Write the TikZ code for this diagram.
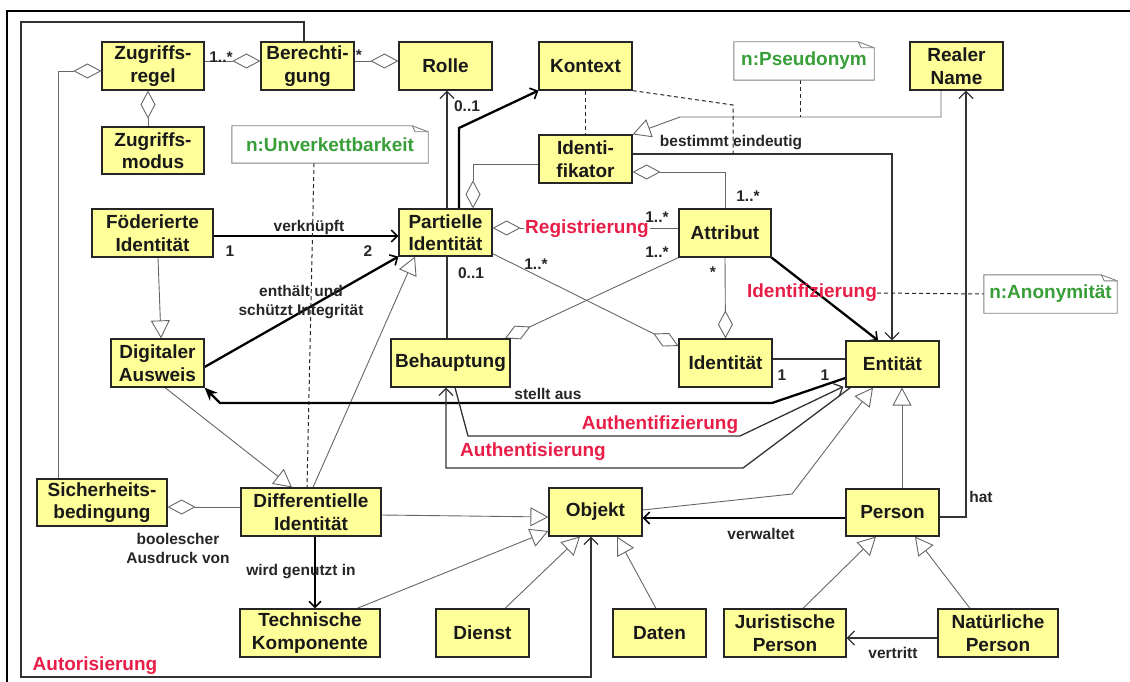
\documentclass[tikz,border=0pt]{standalone}
\usepackage{fontspec}
\setmainfont{Liberation Sans}
\usetikzlibrary{arrows.meta,backgrounds}
\definecolor{boxy}{RGB}{255,255,153}
\definecolor{redl}{RGB}{232,30,72}
\definecolor{notegreen}{RGB}{56,158,56}
\begin{document}
\begin{tikzpicture}[x=1pt,y=-1pt,
  box/.style={draw=black!85, line width=1.2pt, fill=boxy, text=black!90, font=\fontsize{19}{22.5}\selectfont\bfseries, align=center, inner sep=0pt},
  sz/.style 2 args={minimum width=#1pt, minimum height=#2pt},
  notebox/.style={font=\fontsize{19}{21}\selectfont\bfseries, text=notegreen, inner sep=0pt},
  notebd/.style={draw=black!50, line width=0.9pt},
  lab/.style={font=\fontsize{15.5}{19}\selectfont\bfseries, align=center, inner sep=0pt, text=black!85},
  redlab/.style={font=\fontsize{19}{21}\selectfont\bfseries, text=redl, inner sep=0pt},
  thinln/.style={draw=black!60, line width=0.9pt},
  medln/.style={draw=black!80, line width=1.3pt},
  heavy/.style={draw=black, line width=2.3pt},
  dotln/.style={draw=black!85, line width=1pt, dash pattern=on 4pt off 3pt},
  agg/.style={thinln, -{Diamond[fill=white, length=28pt, width=15pt, line width=0.9pt]}},
  gen/.style={thinln, -{Triangle[fill=white, length=18pt, width=19pt, line width=0.9pt]}},
  nav/.style={-{Straight Barb[length=7pt, width=14pt]}},
  navh/.style={-{Straight Barb[length=6pt, width=12pt, line width=1.6pt]}}
]
\useasboundingbox (0,0) rectangle (1130,682);
\draw[line width=2.5pt] (1140,11) -- (7,11) -- (7,692);

% boxes
\node[box, sz={102}{48}] (zr) at (153,66) {Zugriffs-\\regel};
\node[box, sz={93}{48}] (be) at (307.5,66) {Berechti-\\gung};
\node[box, sz={93}{48}] (ro) at (445.5,66) {Rolle};
\node[box, sz={93}{48}] (ko) at (585.5,66) {Kontext};
\node[box, sz={93}{48}] (rn) at (956.5,66) {Realer\\Name};
\node[box, sz={102}{47}] (zm) at (153,150.5) {Zugriffs-\\modus};
\node[box, sz={93}{48}] (idf) at (585.5,159) {Identi-\\fikator};
\node[box, sz={121}{48}] (fi) at (152.5,233) {Föderierte\\Identität};
\node[box, sz={93}{47}] (pi) at (445.5,232.5) {Partielle\\Identität};
\node[box, sz={92}{48}] (at) at (725,233) {Attribut};
\node[box, sz={93}{48}] (da) at (157.5,363) {Digitaler\\Ausweis};
\node[box, sz={119}{48}] (bh) at (450.5,363) {Behauptung};
\node[box, sz={93}{48}] (it) at (725.5,363) {Identität};
\node[box, sz={93}{46}] (en) at (892.5,364) {Entität};
\node[box, sz={130}{47}] (sb) at (102,502.5) {Sicherheits-\\bedingung};
\node[box, sz={140}{48}] (di) at (311,512) {Differentielle\\Identität};
\node[box, sz={93}{48}] (ob) at (595.5,512) {Objekt};
\node[box, sz={93}{47}] (pe) at (892.5,512.5) {Person};
\node[box, sz={140}{48}] (tk) at (310,633) {Technische\\Komponente};
\node[box, sz={93}{48}] (dn) at (482.5,633) {Dienst};
\node[box, sz={93}{48}] (dt) at (659.5,633) {Daten};
\node[box, sz={122}{48}] (jp) at (785,633) {Juristische\\Person};
\node[box, sz={120}{48}] (np) at (998,633) {Natürliche\\Person};

% notes
\node[notebox, sz={196}{37}] (nu) at (330,144.5) {n:Unverkettbarkeit};
\node[notebox, sz={140}{38}] (nps) at (804,61) {n:Pseudonym};
\node[notebox, sz={133}{38}] (na) at (1050.5,294) {n:Anonymität};
\foreach \n in {nu,nps,na}{
  \draw[notebd] (\n.south west) -- (\n.north west) -- ([xshift=-16pt]\n.north east)
     -- ([yshift=-6pt]\n.north east) -- (\n.south east) -- cycle;
  \draw[notebd] ([xshift=-16pt]\n.north east) -- ([xshift=-13pt,yshift=-6pt]\n.north east) -- ([yshift=-6pt]\n.north east);
}

% labels
\node[redlab] (lid) at (812,293) {Identifizierung};
\node[redlab, fill=white, inner sep=1pt] (lreg) at (587,229) {Registrierung};
\node[redlab] (lauf) at (660,425) {Authentifizierung};
\node[redlab] (laus) at (533,452) {Authentisierung};
\node[redlab] (laut) at (95,666) {Autorisierung};
\node[lab] (l1) at (309,227) {verknüpft};
\node[lab] (l2) at (301,302) {enthält und\\schützt Integrität};
\node[lab] (l3) at (731,143) {bestimmt eindeutig};
\node[lab] (l4) at (548,394) {stellt aus};
\node[lab] (l5) at (761,534) {verwaltet};
\node[lab] (l6) at (981,497) {hat};
\node[lab] (l7) at (893,653) {vertritt};
\node[lab] (l8) at (301,572) {wird genutzt in};
\node[lab] (l9) at (178,548) {boolescher\\Ausdruck von};
\node[lab] (m1) at (221,57) {1..*};
\node[lab] (m2) at (359,55) {*};
\node[lab] (m3) at (467,106) {0..1};
\node[lab] (m4) at (230,251) {1};
\node[lab] (m5) at (368,251) {2};
\node[lab] (m6) at (748,196) {1..*};
\node[lab] (m7) at (657,217) {1..*};
\node[lab] (m8) at (657,252) {1..*};
\node[lab] (m9) at (713,272) {*};
\node[lab] (m10) at (536,264) {1..*};
\node[lab] (m11) at (471,273) {0..1};
\node[lab] (m12) at (782,375) {1};
\node[lab] (m13) at (825,375) {1};

\begin{scope}[on background layer]
% Autorisierung
\draw[medln, nav] (304,0 |- be.north) -- (304,22) -- (21,22) -- (21,677) -- (591,677) -- (591,0 |- ob.south);
% aggregations
\draw[agg] (zr.east |- 0,61) -- (be.west |- 0,61);
\draw[agg] (be.east |- 0,61) -- (ro.west |- 0,61);
\draw[agg] (148,0 |- zm.north) -- (148,0 |- zr.south);
\draw[agg] (58,0 |- sb.north) -- (58,71) -- (zr.west |- 0,71);
\draw[agg] (idf.west |- 0,164) -- (473,164) -- (473,0 |- pi.north);
\draw[agg] (at.north) -- (725,172) -- (idf.east |- 0,172);
\draw[agg] (at.west |- 0,228) -- (pi.east |- 0,228);
\draw[agg] ([yshift=3pt]pi.south east) -- (it.west |- 0,346);
\draw[agg] (at.south west) -- (505,0 |- bh.north);
\draw[agg] (at.south) -- (it.north);
\draw[agg] (di.west |- 0,507) -- (sb.east |- 0,507);
% generalizations
\draw[gen] (158,0 |- fi.south) -- (161,0 |- da.north);
\draw[gen] (165,0 |- da.south) -- (292,0 |- di.north);
\draw[gen] (313,0 |- di.north) -- (415,0 |- pi.south);
\draw[gen] (941,0 |- rn.south) -- (941,117) -- (680,117) -- (idf.north east);
\draw[gen] (ob.east |- 0,510) -- (792,494) -- (873,0 |- en.south);
\draw[gen] (902,0 |- pe.north) -- (902,0 |- en.south);
\draw[gen] (di.east |- 0,515) -- (ob.west |- 0,517);
\draw[gen] (357,0 |- tk.north) -- (ob.west |- 0,531);
\draw[gen] (505,0 |- dn.north) -- (580,0 |- ob.south);
\draw[gen] (656,0 |- dt.north) -- (617,0 |- ob.south);
\draw[gen] (803,0 |- jp.north) -- (876,0 |- pe.south);
\draw[gen] (970,0 |- np.north) -- (915,0 |- pe.south);
% plain associations
\draw[medln] (447,0 |- pi.south) -- (447,0 |- bh.north);
\draw[medln] (it.east |- 0,359) -- (en.west |- 0,359);
% navigable associations
\draw[heavy, navh] (fi.east |- 0,236) -- (pi.west |- 0,236);
\draw[heavy, navh] (da.east |- 0,367) -- (pi.south west);
\draw[medln, nav] (447,0 |- pi.north) -- (447,0 |- ro.south);
\draw[heavy, navh] (459,0 |- pi.north) -- (459,128) -- (ko.south west);
\draw[medln, nav] (idf.east |- 0,154) -- (892,154) -- (892,0 |- en.north);
\draw[heavy, navh] (at.south east) -- (878,0 |- en.north);
\draw[heavy, -{Stealth[length=13pt, width=11pt]}] (en.west |- 0,378) -- (772,403) -- (220,403) -- (da.south east);
\draw[medln, nav] (455,0 |- bh.south) -- (468,436) -- (740,436) -- ([xshift=-2pt,yshift=1pt]en.south west);
\draw[medln, nav] ([xshift=5pt]en.south west) -- (743,468) -- (446,468) -- (446,0 |- bh.south);
\draw[heavy, navh] (pe.west |- 0,518) -- (ob.east |- 0,518);
\draw[medln, nav] (pe.east |- 0,517) -- (966,517) -- (966,0 |- rn.south);
\draw[heavy, navh] (315,0 |- di.south) -- (315,0 |- tk.north);
\draw[medln, nav] (np.west |- 0,638) -- (jp.east |- 0,638);
% dashed
\draw[dotln] (314,0 |- nu.south) -- (307,0 |- di.north);
\draw[dotln] (ko.south) -- (idf.north);
\draw[dotln] (ko.south east) -- (733,105) -- (733,154);
\draw[dotln] (800,0 |- nps.south) -- (800,117);
\draw[dotln] (lid.east) -- (na.west);
\end{scope}
\end{tikzpicture}
\end{document}
